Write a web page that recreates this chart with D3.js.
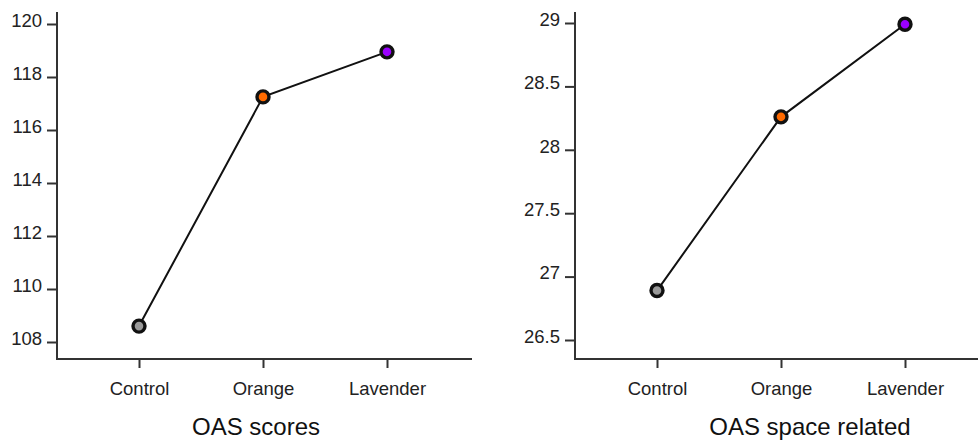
<!DOCTYPE html>
<meta charset="utf-8">
<style>

    body {
        margin: 0;
        background: #fff;
    }

    text {
        font-family: "Liberation Sans", Arial, sans-serif;
        fill: #222;
    }

    .axis path, .axis line {
        stroke: #333;
        stroke-width: 2;
    }

    .title {
        font-size: 24px;
        fill: #111;
    }

</style>
<body>

    <div id="chart"></div>

    <script src="https://d3js.org/d3.v7.min.js"></script>

    <script type="text/javascript">

        // data
        var groups = ["Control", "Orange", "Lavender"];
        var groupColors = ["#9a9a9a", "#ff6a00", "#9b00ff"];

        var scoreValues = [108.6, 117.25, 118.95];
        var scoreTicks = [108, 110, 112, 114, 116, 118, 120];

        var spaceValues = [26.89, 28.26, 28.99];
        var spaceTicks = [26.5, 27, 27.5, 28, 28.5, 29];

        var titles = ["OAS scores", "OAS space related"];

        // dims
        var svg_dx = 978,
            svg_dy = 442;

        var svg = d3.select("#chart")
            .append("svg")
            .attr("width", svg_dx)
            .attr("height", svg_dy);

        drawPanel({
            left: 57, right: 472, top: 12, bottom: 359,
            tickTop: 24, tickBottom: 342,
            values: scoreValues, ticks: scoreTicks,
            title: titles[0], titleX: 256
        });

        drawPanel({
            left: 575, right: 990, top: 12, bottom: 359,
            tickTop: 23, tickBottom: 340,
            values: spaceValues, ticks: spaceTicks,
            title: titles[1], titleX: 810
        });

        function drawPanel(p) {

            var g = svg.append("g");

            var x = d3.scalePoint()
                .domain(groups)
                .range([p.left + 82, p.left + 330]);

            var y = d3.scaleLinear()
                .domain(d3.extent(p.ticks))
                .range([p.tickBottom, p.tickTop]);

            // y axis
            var yAxis = g.append("g")
                .attr("class", "axis")
                .attr("transform", "translate(" + p.left + ",0)")
                .call(d3.axisLeft(y)
                    .tickValues(p.ticks)
                    .tickFormat(d3.format("~g"))
                    .tickSize(10)
                    .tickSizeOuter(0)
                    .tickPadding(5));

            yAxis.select(".domain").remove();
            yAxis.selectAll("text")
                .attr("dy", "0.12em")
                .style("font-size", "18.5px");

            // x axis
            var xAxis = g.append("g")
                .attr("class", "axis")
                .attr("transform", "translate(0," + p.bottom + ")")
                .call(d3.axisBottom(x)
                    .tickSize(9)
                    .tickSizeOuter(0));

            xAxis.select(".domain").remove();
            xAxis.selectAll("text")
                .attr("y", 36)
                .attr("dy", null)
                .style("font-size", "18.5px");

            // axis lines
            g.append("path")
                .attr("d", "M" + p.left + "," + p.top + "V" + p.bottom + "H" + p.right)
                .attr("fill", "none")
                .style("stroke", "#333")
                .style("stroke-width", 2);

            // line
            var line = d3.line()
                .x(function (d, i) { return x(groups[i]); })
                .y(function (d) { return y(d); });

            g.append("path")
                .datum(p.values)
                .attr("d", line)
                .attr("fill", "none")
                .attr("stroke", "#111")
                .attr("stroke-width", 2);

            // points
            g.selectAll("circle")
                .data(p.values)
                .enter()
                .append("circle")
                .attr("cx", function (d, i) { return x(groups[i]); })
                .attr("cy", function (d) { return y(d); })
                .attr("r", 6)
                .attr("fill", function (d, i) { return groupColors[i]; })
                .attr("stroke", "#111")
                .attr("stroke-width", 3.4);

            // title
            g.append("text")
                .attr("class", "title")
                .attr("x", p.titleX)
                .attr("y", 435)
                .attr("text-anchor", "middle")
                .text(p.title);
        }

    </script>

</body>
